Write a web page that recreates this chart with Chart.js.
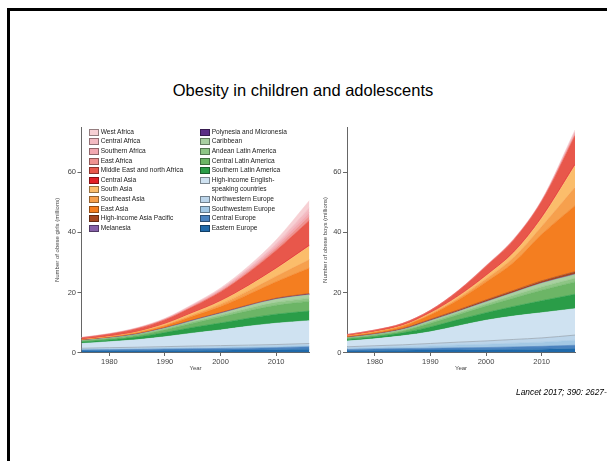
<!DOCTYPE html>
<html>
<head>
<meta charset="utf-8">
<script src="https://cdn.jsdelivr.net/npm/chart.js@4.4.0/dist/chart.umd.min.js"></script>
<style>
  html, body { margin: 0; padding: 0; background: #fff; overflow: hidden; }
  body { width: 607px; height: 461px; position: relative; font-family: "Liberation Sans", Arial, sans-serif; }
  #frame { position: absolute; left: 7px; top: 8px; width: 700px; height: 600px;
           border-left: 3px solid #000; border-top: 3px solid #000; }
  #title { position: absolute; left: 0; top: 80px; width: 606px; text-align: center;
           font-size: 16.5px; line-height: 20px; color: #000; }
  #cite { position: absolute; left: 516px; top: 387px; font-size: 8.4px; line-height: 10px;
          font-style: italic; color: #000; white-space: nowrap; }
  .wrap { position: absolute; top: 110px; height: 280px; }
  #wrapGirls { left: 0; width: 320px; }
  #wrapBoys { left: 320px; width: 287px; }
  .leg { position: absolute; font-size: 6.6px; line-height: 8px; color: #222; white-space: nowrap; }
  .sw { position: absolute; width: 8px; height: 5px; border: 0.6px solid rgba(0,0,0,0.4); }
</style>
</head>
<body>
<div id="frame"></div>
<div id="title">Obesity in children and adolescents</div>
<div class="wrap" id="wrapGirls"><canvas id="girlsChart" width="320" height="280"></canvas></div>
<div class="wrap" id="wrapBoys"><canvas id="boysChart" width="287" height="280"></canvas></div>
<div id="legend"></div>
<div id="cite">Lancet 2017; 390: 2627-</div>
<script>
// years sampled off the figure
const years = [1975, 1980, 1985, 1990, 1995, 2000, 2005, 2010, 2016];

// legend order (top of the stack first)
const regions = [
    "West Africa", "Central Africa", "Southern Africa", "East Africa",
    "Middle East and north Africa", "Central Asia", "South Asia", "Southeast Asia",
    "East Asia", "High-income Asia Pacific", "Melanesia",
    "Polynesia and Micronesia", "Caribbean", "Andean Latin America", "Central Latin America",
    "Southern Latin America", "High-income English-speaking countries", "Northwestern Europe",
    "Southwestern Europe", "Central Europe", "Eastern Europe"
];

const colors = [
    "#f7d0d4", "#f3bac1", "#f2a8b0", "#ef9290",
    "#e8574b", "#e11f26", "#fbbd6b", "#f6a04d",
    "#f47e20", "#a5461f", "#8560a8",
    "#5d2f86", "#a9d0a1", "#8ec585", "#6cb566",
    "#2a9d48", "#cfe2f1", "#bcd5ea",
    "#a3c8e4", "#4b83bf", "#1f69aa"
];

// millions of obese girls, one row per region (same order as regions)
const girls = [
    [0.05, 0.08, 0.1, 0.15, 0.25, 0.4, 0.7, 1.2, 2.4],
    [0.03, 0.05, 0.07, 0.1, 0.15, 0.25, 0.4, 0.7, 1.5],
    [0.06, 0.08, 0.1, 0.15, 0.25, 0.35, 0.55, 0.8, 1.3],
    [0.04, 0.05, 0.08, 0.1, 0.2, 0.3, 0.5, 0.8, 1.4],
    [0.5, 0.7, 1.0, 1.3, 2.0, 3.0, 4.3, 5.9, 8.3],
    [0.03, 0.04, 0.05, 0.06, 0.08, 0.1, 0.15, 0.2, 0.3],
    [0.1, 0.15, 0.2, 0.35, 0.6, 1.0, 1.6, 2.5, 4.5],
    [0.05, 0.1, 0.15, 0.3, 0.5, 0.8, 1.2, 1.8, 2.8],
    [0.1, 0.15, 0.3, 0.6, 1.2, 2.0, 3.5, 5.5, 8.5],
    [0.1, 0.12, 0.14, 0.16, 0.18, 0.2, 0.22, 0.25, 0.3],
    [0.01, 0.01, 0.02, 0.02, 0.03, 0.04, 0.05, 0.06, 0.07],
    [0.01, 0.01, 0.02, 0.02, 0.03, 0.04, 0.05, 0.06, 0.07],
    [0.1, 0.12, 0.15, 0.2, 0.4, 0.6, 0.8, 1.0, 1.1],
    [0.1, 0.12, 0.18, 0.3, 0.45, 0.6, 0.8, 0.95, 1.0],
    [0.25, 0.35, 0.55, 0.9, 1.4, 2.0, 2.5, 3.0, 3.3],
    [0.5, 0.6, 0.9, 1.4, 1.9, 2.3, 2.65, 3.0, 3.2],
    [1.6, 2.0, 2.5, 3.3, 4.3, 5.2, 6.3, 7.1, 7.6],
    [0.3, 0.35, 0.4, 0.45, 0.5, 0.55, 0.55, 0.6, 0.6],
    [0.25, 0.3, 0.3, 0.35, 0.4, 0.4, 0.45, 0.45, 0.5],
    [0.35, 0.4, 0.45, 0.5, 0.55, 0.6, 0.65, 0.7, 0.8],
    [0.5, 0.55, 0.6, 0.65, 0.7, 0.75, 0.8, 0.9, 1.1]
];

// millions of obese boys
const boys = [
    [0.02, 0.03, 0.03, 0.03, 0.05, 0.08, 0.1, 0.13, 0.6],
    [0.01, 0.02, 0.02, 0.03, 0.05, 0.07, 0.1, 0.12, 0.4],
    [0.02, 0.03, 0.03, 0.03, 0.05, 0.08, 0.1, 0.13, 0.5],
    [0.01, 0.02, 0.02, 0.03, 0.05, 0.07, 0.1, 0.12, 0.4],
    [0.4, 0.5, 0.6, 0.8, 1.7, 3.0, 4.0, 5.2, 9.5],
    [0.03, 0.04, 0.05, 0.05, 0.1, 0.15, 0.2, 0.3, 0.4],
    [0.1, 0.15, 0.15, 0.3, 0.6, 1.0, 1.6, 2.8, 7.3],
    [0.08, 0.1, 0.15, 0.3, 0.6, 1.0, 1.6, 2.6, 6.1],
    [0.2, 0.35, 0.7, 1.5, 3.3, 6.0, 9.4, 15.5, 22.0],
    [0.2, 0.25, 0.3, 0.4, 0.5, 0.6, 0.65, 0.7, 0.8],
    [0.02, 0.02, 0.02, 0.02, 0.02, 0.02, 0.04, 0.06, 0.06],
    [0.01, 0.01, 0.01, 0.02, 0.02, 0.03, 0.03, 0.04, 0.04],
    [0.1, 0.15, 0.2, 0.4, 0.5, 0.7, 0.9, 1.2, 1.3],
    [0.15, 0.2, 0.3, 0.5, 0.6, 0.7, 0.9, 1.1, 1.2],
    [0.3, 0.4, 0.6, 1.2, 1.6, 2.2, 2.8, 3.5, 4.1],
    [0.55, 0.7, 1.0, 1.6, 2.1, 2.5, 3.2, 4.0, 4.8],
    [1.9, 2.3, 3.0, 3.9, 5.4, 6.9, 7.8, 8.4, 8.8],
    [0.5, 0.55, 0.65, 0.8, 0.95, 1.1, 1.25, 1.4, 1.7],
    [0.4, 0.5, 0.6, 0.8, 0.95, 1.1, 1.25, 1.4, 1.7],
    [0.4, 0.5, 0.55, 0.6, 0.7, 0.75, 0.85, 0.95, 1.1],
    [0.6, 0.7, 0.75, 0.8, 0.85, 0.9, 1.0, 1.1, 1.3]
];

const yTicks = [0, 20, 40, 60];
const xTicks = [1980, 1990, 2000, 2010];

const tickFont = { family: "Liberation Sans, Arial, sans-serif", size: 7.5 };
const titleFont = { family: "Liberation Sans, Arial, sans-serif", size: 6 };

function makeDatasets(rows) {
    // stack from the bottom: Eastern Europe first
    const sets = [];
    for (let i = rows.length - 1; i >= 0; i--) {
        const name = regions[i];
        const edge = name === "Northwestern Europe" ? "#9aa7b3" : colors[i];
        sets.push({
            label: name,
            data: years.map((yr, k) => ({ x: yr, y: rows[i][k] })),
            backgroundColor: colors[i],
            borderColor: edge,
            borderWidth: name === "Northwestern Europe" ? 0.8 : 0.6,
            pointRadius: 0,
            cubicInterpolationMode: "monotone",
            fill: sets.length === 0 ? "origin" : "-1"
        });
    }
    return sets;
}

function makeChart(canvasId, rows, yTitle, pad, yWidth) {
    const ctx = document.getElementById(canvasId).getContext("2d");
    return new Chart(ctx, {
        type: "line",
        data: { datasets: makeDatasets(rows) },
        options: {
            responsive: false,
            animation: false,
            layout: { padding: pad },
            plugins: { legend: { display: false }, tooltip: { enabled: false } },
            scales: {
                x: {
                    type: "linear",
                    min: 1975,
                    max: 2016,
                    border: { display: true, color: "#666", width: 1 },
                    grid: { drawOnChartArea: false, drawTicks: true, tickLength: 3.5, color: "#666" },
                    ticks: { color: "#444", font: tickFont, padding: 1, maxRotation: 0,
                             callback: v => String(v) },
                    afterBuildTicks: s => { s.ticks = xTicks.map(v => ({ value: v })); },
                    afterFit: s => { s.height = 19.4; },
                    title: { display: true, text: "Year", color: "#444", font: titleFont, padding: 0 }
                },
                y: {
                    stacked: true,
                    min: 0,
                    max: 75,
                    border: { display: true, color: "#666", width: 1 },
                    grid: { drawOnChartArea: false, drawTicks: true, tickLength: 4, color: "#666" },
                    ticks: { color: "#444", font: tickFont, padding: 1.5 },
                    afterBuildTicks: s => { s.ticks = yTicks.map(v => ({ value: v })); },
                    afterFit: s => { s.width = yWidth; },
                    title: { display: true, text: yTitle, color: "#444", font: titleFont, padding: 0 }
                }
            }
        }
    });
}

makeChart("girlsChart", girls, "Number of obese girls (millions)",
    { left: 53.4, right: 10.5, top: 17.3, bottom: 18.1 }, 28.1);
makeChart("boysChart", boys, "Number of obese boys (millions)",
    { left: 1.4, right: 32, top: 17.3, bottom: 18.1 }, 25.6);

// legend: two columns inside the girls panel
const legend = document.getElementById("legend");
const splitAt = 11;
let row2 = 0;
regions.forEach((name, i) => {
    const col = i < splitAt ? 0 : 1;
    let row = col === 0 ? i : row2;
    const cy = 131.8 + row * 9.6;
    const sw = document.createElement("div");
    sw.className = "sw";
    sw.style.left = (col === 0 ? 88.5 : 199.5) + "px";
    sw.style.top = (cy - 3) + "px";
    sw.style.background = colors[i];
    legend.appendChild(sw);
    const lines = name === "High-income English-speaking countries"
        ? ["High-income English-", "speaking countries"] : [name];
    lines.forEach((t, j) => {
        const lab = document.createElement("div");
        lab.className = "leg";
        lab.textContent = t;
        lab.style.left = (col === 0 ? 100.7 : 211.7) + "px";
        lab.style.top = (cy - 4 + j * 9.6) + "px";
        legend.appendChild(lab);
    });
    if (col === 1) row2 += lines.length;
});
</script>
</body>
</html>
